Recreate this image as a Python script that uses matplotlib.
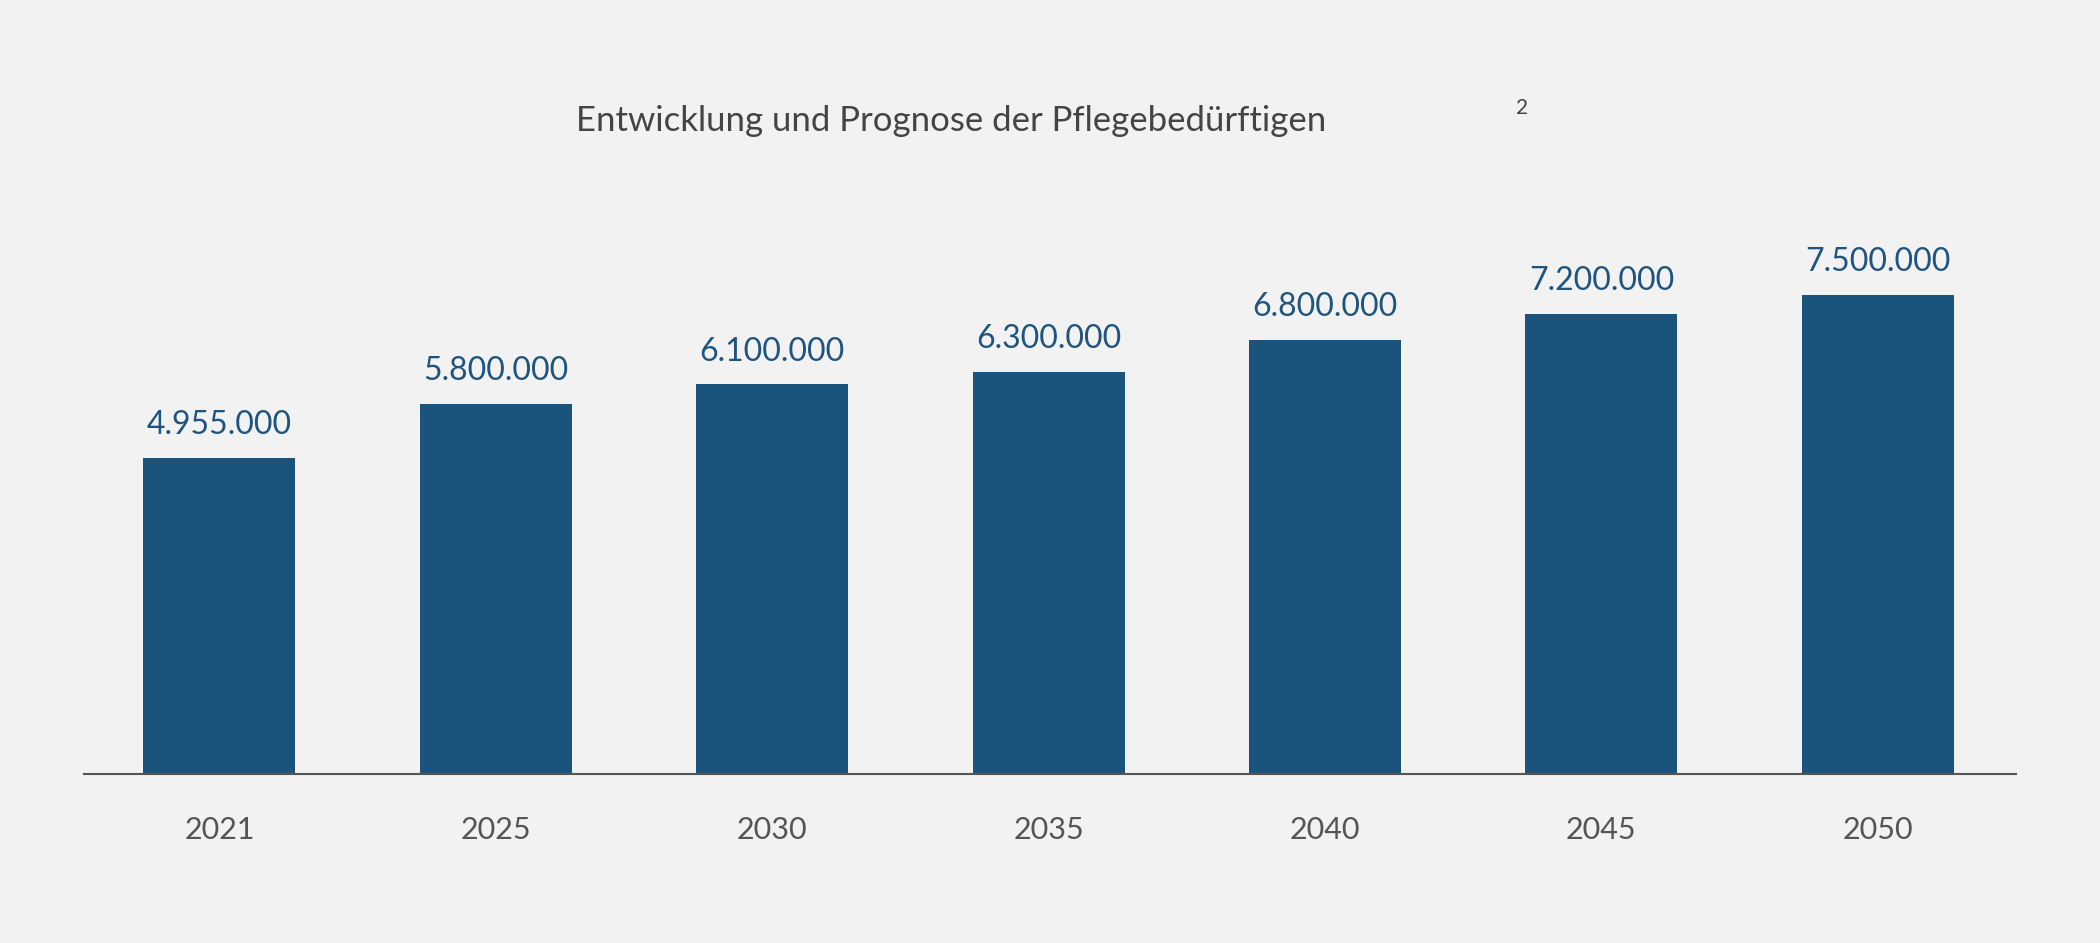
import matplotlib.pyplot as plt

years = ["2021", "2025", "2030", "2035", "2040", "2045", "2050"]
values = [4955000, 5800000, 6100000, 6300000, 6800000, 7200000, 7500000]

bg = "#f2f2f2"
bar_col = "#1a537b"

fig = plt.figure(figsize=(21, 9.43), dpi=100, facecolor=bg)
ax = fig.add_axes([0.040, 0.179, 0.92, 0.542])
ax.set_facecolor(bg)

x = range(len(years))
ax.bar(x, values, width=0.55, color=bar_col, zorder=2)
for xi, v in zip(x, values):
    ax.text(xi, v + 280000, f"{v:,}".replace(",", "."), ha="center", va="bottom",
            fontsize=23, color="#1f5480", family="Lato")

ax.set_xlim(-0.49, 6.50)
ax.set_ylim(0, 8000000)
ax.set_xticks(list(x))
ax.set_xticklabels(years, fontsize=22, color="#555555", family="Lato")
ax.tick_params(axis="x", length=0, pad=30)
ax.set_yticks([])
for s in ["top", "right", "left"]:
    ax.spines[s].set_visible(False)
ax.spines["bottom"].set_color("#555555")
ax.spines["bottom"].set_linewidth(1.5)

fig.text(0.453, 0.872, "Entwicklung und Prognose der Pflegebedürftigen", ha="center", va="center",
         fontsize=25, color="#444444", family="Lato")
fig.text(0.722, 0.885, "2", ha="left", va="center", fontsize=15, color="#444444", family="Lato")

fig.savefig("out.png", dpi=100, facecolor=bg)
